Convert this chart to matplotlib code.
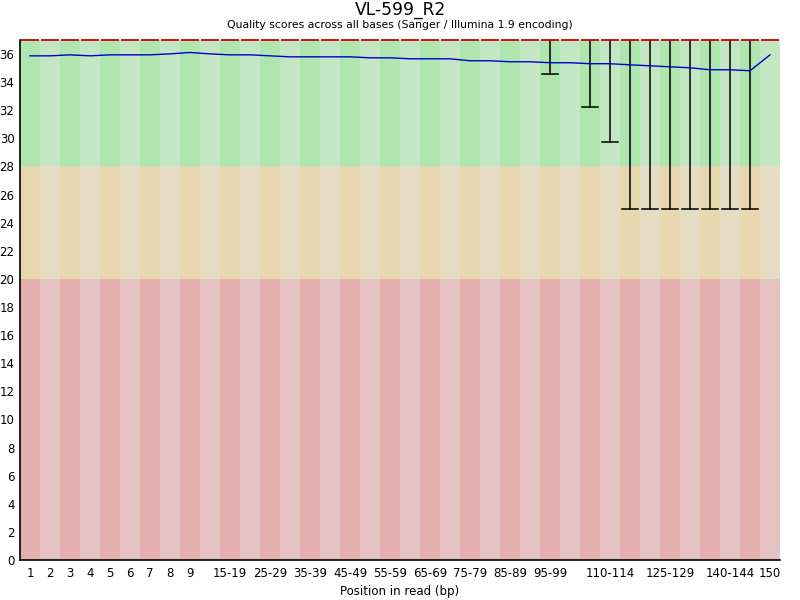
import matplotlib
matplotlib.use("Agg")
import matplotlib.pyplot as plt
import numpy as np

# ---- data ----
bin_labels = [str(i) for i in range(1, 10)] + \
    [f"{s}-{s+4}" for s in range(10, 150, 5)] + ["150"]
shown_labels = ["1", "2", "3", "4", "5", "6", "7", "8", "9",
                "15-19", "25-29", "35-39", "45-49", "55-59", "65-69",
                "75-79", "85-89", "95-99", "110-114", "125-129",
                "140-144", "150"]
mean_q = [35.87, 35.87, 35.94, 35.87, 35.94, 35.94, 35.94, 36.01, 36.11,
          36.01, 35.94, 35.94, 35.87, 35.80, 35.80, 35.80, 35.80, 35.73,
          35.73, 35.66, 35.66, 35.66, 35.52, 35.52, 35.45, 35.45, 35.38,
          35.38, 35.31, 35.31, 35.23, 35.16, 35.09, 35.02, 34.88, 34.88,
          34.81, 35.94]
median_q = [37.0] * 38
p90_q = [37.0] * 38
p10_q = [37.0] * 26 + [34.6, 37.0, 32.2, 29.75] + [25.0] * 7 + [37.0]

title = "VL-599_R2"
subtitle = "Quality scores across all bases (Sanger / Illumina 1.9 encoding)"
xlabel = "Position in read (bp)"
y_max = 37.0

# ---- figure ----
plt.rcParams['font.family'] = ['DejaVu Sans']
fig = plt.figure(figsize=(8, 6), dpi=100)
ax = fig.add_axes([0.025, 0.0667, 0.95, 0.8667])

x = np.arange(len(bin_labels))
bands = [(0, 20, "#E6AFAF", "#E6C3C3"),
         (20, 28, "#E6D7AF", "#E6DCC3"),
         (28, y_max, "#AFE6AF", "#C3E6C3")]
for lo, hi, dark, light in bands:
    cols = [dark if i % 2 == 0 else light for i in x]
    ax.bar(x, hi - lo, bottom=lo, width=1.0, color=cols, linewidth=0, zorder=1)

# whiskers (10th-90th percentile)
for i in x:
    if p10_q[i] < p90_q[i]:
        ax.plot([i, i], [p10_q[i], p90_q[i]], color="black", lw=1.1, zorder=3)
        ax.plot([i - 0.42, i + 0.42], [p10_q[i], p10_q[i]], color="black",
                lw=1.1, zorder=3)

# medians
for i in x:
    ax.plot([i - 0.45, i + 0.45], [median_q[i], median_q[i]], color="#CC0000",
            lw=1.3, zorder=4, clip_on=False, solid_capstyle="butt")

# mean line
ax.plot(x, mean_q, color="#0000C8", lw=1.0, zorder=5)

ax.set_xlim(-0.5, len(bin_labels) - 0.5)
ax.set_ylim(0, y_max)
ax.set_yticks(np.arange(0, 37, 2))
ax.tick_params(axis="y", length=0, labelsize=8.5, pad=4)
tick_pos = [bin_labels.index(l) for l in shown_labels]
ax.set_xticks(tick_pos)
ax.set_xticklabels(shown_labels)
ax.tick_params(axis="x", length=0, labelsize=8.5, pad=5)
for s in ["top", "right"]:
    ax.spines[s].set_visible(False)
ax.spines["left"].set_linewidth(1.2)
ax.spines["bottom"].set_linewidth(1.2)
ax.spines["left"].set_zorder(6)
ax.spines["bottom"].set_zorder(6)

fig.text(0.5, 1 - 10 / 600, title, ha="center", va="center", fontsize=12.3)
fig.text(0.5, 1 - 24.5 / 600, subtitle, ha="center", va="center", fontsize=7.8)
fig.text(0.5, 1 - 591 / 600, xlabel, ha="center", va="center", fontsize=8.5)

fig.savefig("out.png", dpi=100)
